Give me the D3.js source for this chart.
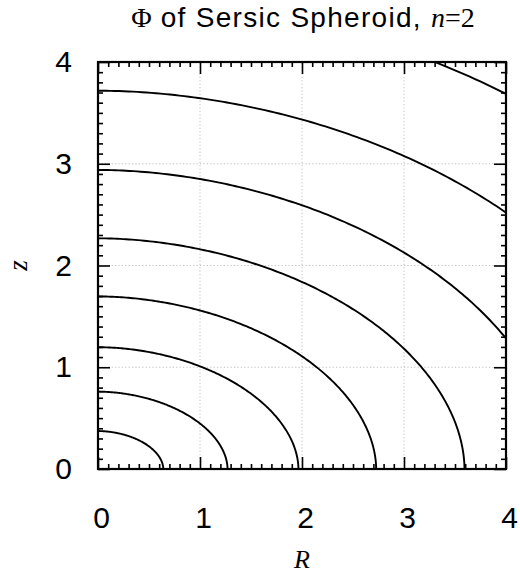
<!DOCTYPE html>
<html>
<head>
<meta charset="utf-8">
<script src="https://cdn.jsdelivr.net/npm/d3@7"></script>
<style>
  html, body { margin: 0; padding: 0; background: #fff; }
  svg { display: block; }
</style>
</head>
<body>
<svg id="chart" width="520" height="575"></svg>
<script>
// ---- data ----
const rDomain = [0, 4];
const zDomain = [0, 4];
const majorTicks = [0, 1, 2, 3, 4];
const tickLabels = ["0", "1", "2", "3", "4"];
const gridValues = [1, 2, 3];
// each contour of Phi: its crossing of the R axis (z=0) and of the z axis (R=0)
const contourRIntercept = [0.64, 1.27, 1.965, 2.727, 3.593, 4.52, 5.63, 6.91];
const contourZIntercept = [0.373, 0.76, 1.197, 1.696, 2.267, 2.939, 3.718, 4.64];
const contourShapeExponent = 1.9; // contours are slightly flatter-than-elliptic
const titleParts = [
  { text: "\u03A6", cls: "serif" },
  { text: " of Sersic Spheroid, ", cls: "sans" },
  { text: "n", cls: "serifIt" },
  { text: "=2", cls: "serif" }
];
const xTitle = "R";
const yTitle = "z";

// ---- layout ----
const svg = d3.select("#chart");
const x = d3.scaleLinear().domain(rDomain).range([98, 506]);
const y = d3.scaleLinear().domain(zDomain).range([469, 62]);
const X0 = x.range()[0], X1 = x.range()[1], Y0 = y.range()[0], Y1 = y.range()[1];

const sans = "'Liberation Sans', Arial, Helvetica, sans-serif";
const serif = "'Liberation Serif', 'Times New Roman', serif";

svg.append("defs").append("clipPath").attr("id", "plotClip")
  .append("rect").attr("x", X0).attr("y", Y1).attr("width", X1 - X0).attr("height", Y0 - Y1);

// grid
const grid = svg.append("g").attr("stroke", "#b0b0b0").attr("stroke-width", 0.8)
  .attr("stroke-dasharray", "1.2,2.2");
grid.selectAll("line.v").data(gridValues).join("line").attr("class", "v")
  .attr("x1", d => x(d)).attr("x2", d => x(d)).attr("y1", Y0).attr("y2", Y1);
grid.selectAll("line.h").data(gridValues).join("line").attr("class", "h")
  .attr("y1", d => y(d)).attr("y2", d => y(d)).attr("x1", X0).attr("x2", X1);

// contours
const contours = contourRIntercept.map((a, i) => ({ a, b: contourZIntercept[i] }));
const angles = d3.range(0, 90.01, 0.5).map(d => d * Math.PI / 180);
const e = 2 / contourShapeExponent;
const line = d3.line().x(d => x(d[0])).y(d => y(d[1]));
svg.append("g").attr("clip-path", "url(#plotClip)")
  .selectAll("path").data(contours).join("path")
  .attr("fill", "none").attr("stroke", "#000").attr("stroke-width", 1.9)
  .attr("d", c => line(angles.map(t => [
    c.a * Math.pow(Math.cos(t), e),
    c.b * Math.pow(Math.max(Math.sin(t), 0), e)
  ])));

// axes
const minorTicks = d3.range(0, 40.5, 1).map(d => d / 10).filter(d => !majorTicks.includes(d));
function styleAxis(g) {
  g.select(".domain").remove();
  g.selectAll(".tick line").attr("stroke", "#000").attr("stroke-width", 1.6);
}
const fmt = (d) => tickLabels[majorTicks.indexOf(d)];

// bottom
svg.append("g").attr("transform", `translate(0,${Y0})`)
  .call(d3.axisBottom(x).tickValues(majorTicks).tickSizeInner(-12).tickSizeOuter(0)
    .tickPadding(38).tickFormat(fmt))
  .call(styleAxis)
  .call(g => g.selectAll("text").attr("font-family", sans).attr("font-size", 30)
    .attr("fill", "#000").attr("dx", 3));
svg.append("g").attr("transform", `translate(0,${Y0})`)
  .call(d3.axisBottom(x).tickValues(minorTicks).tickSizeInner(-5).tickSizeOuter(0).tickFormat(""))
  .call(styleAxis);
// top
svg.append("g").attr("transform", `translate(0,${Y1})`)
  .call(d3.axisTop(x).tickValues(majorTicks).tickSizeInner(-12).tickSizeOuter(0).tickFormat(""))
  .call(styleAxis);
svg.append("g").attr("transform", `translate(0,${Y1})`)
  .call(d3.axisTop(x).tickValues(minorTicks).tickSizeInner(-5).tickSizeOuter(0).tickFormat(""))
  .call(styleAxis);
// left
svg.append("g").attr("transform", `translate(${X0},0)`)
  .call(d3.axisLeft(y).tickValues(majorTicks).tickSizeInner(-12).tickSizeOuter(0)
    .tickPadding(26).tickFormat(fmt))
  .call(styleAxis)
  .call(g => g.selectAll("text").attr("font-family", sans).attr("font-size", 30)
    .attr("fill", "#000"));
svg.append("g").attr("transform", `translate(${X0},0)`)
  .call(d3.axisLeft(y).tickValues(minorTicks).tickSizeInner(-5).tickSizeOuter(0).tickFormat(""))
  .call(styleAxis);
// right
svg.append("g").attr("transform", `translate(${X1},0)`)
  .call(d3.axisRight(y).tickValues(majorTicks).tickSizeInner(-12).tickSizeOuter(0).tickFormat(""))
  .call(styleAxis);
svg.append("g").attr("transform", `translate(${X1},0)`)
  .call(d3.axisRight(y).tickValues(minorTicks).tickSizeInner(-5).tickSizeOuter(0).tickFormat(""))
  .call(styleAxis);

// frame
svg.append("rect").attr("x", X0).attr("y", Y1).attr("width", X1 - X0).attr("height", Y0 - Y1)
  .attr("fill", "none").attr("stroke", "#000").attr("stroke-width", 2.2);

// title
const title = svg.append("text").attr("x", (X0 + X1) / 2 + 1).attr("y", 27)
  .attr("text-anchor", "middle").attr("font-size", 28).attr("fill", "#000");
title.selectAll("tspan").data(titleParts).join("tspan")
  .text(d => d.text)
  .attr("font-family", d => d.cls === "sans" ? sans : serif)
  .attr("letter-spacing", d => d.cls === "sans" ? 1.3 : 0)
  .attr("font-style", d => d.cls === "serifIt" ? "italic" : "normal");

// axis titles
svg.append("text").attr("x", (X0 + X1) / 2).attr("y", 568)
  .attr("text-anchor", "middle").attr("font-family", serif).attr("font-style", "italic")
  .attr("font-size", 26).attr("fill", "#000").text(xTitle);
svg.append("text").attr("transform", `translate(27,${(Y0 + Y1) / 2}) rotate(-90)`)
  .attr("text-anchor", "middle").attr("font-family", serif).attr("font-style", "italic")
  .attr("font-size", 27).attr("fill", "#000").text(yTitle);
</script>
</body>
</html>
